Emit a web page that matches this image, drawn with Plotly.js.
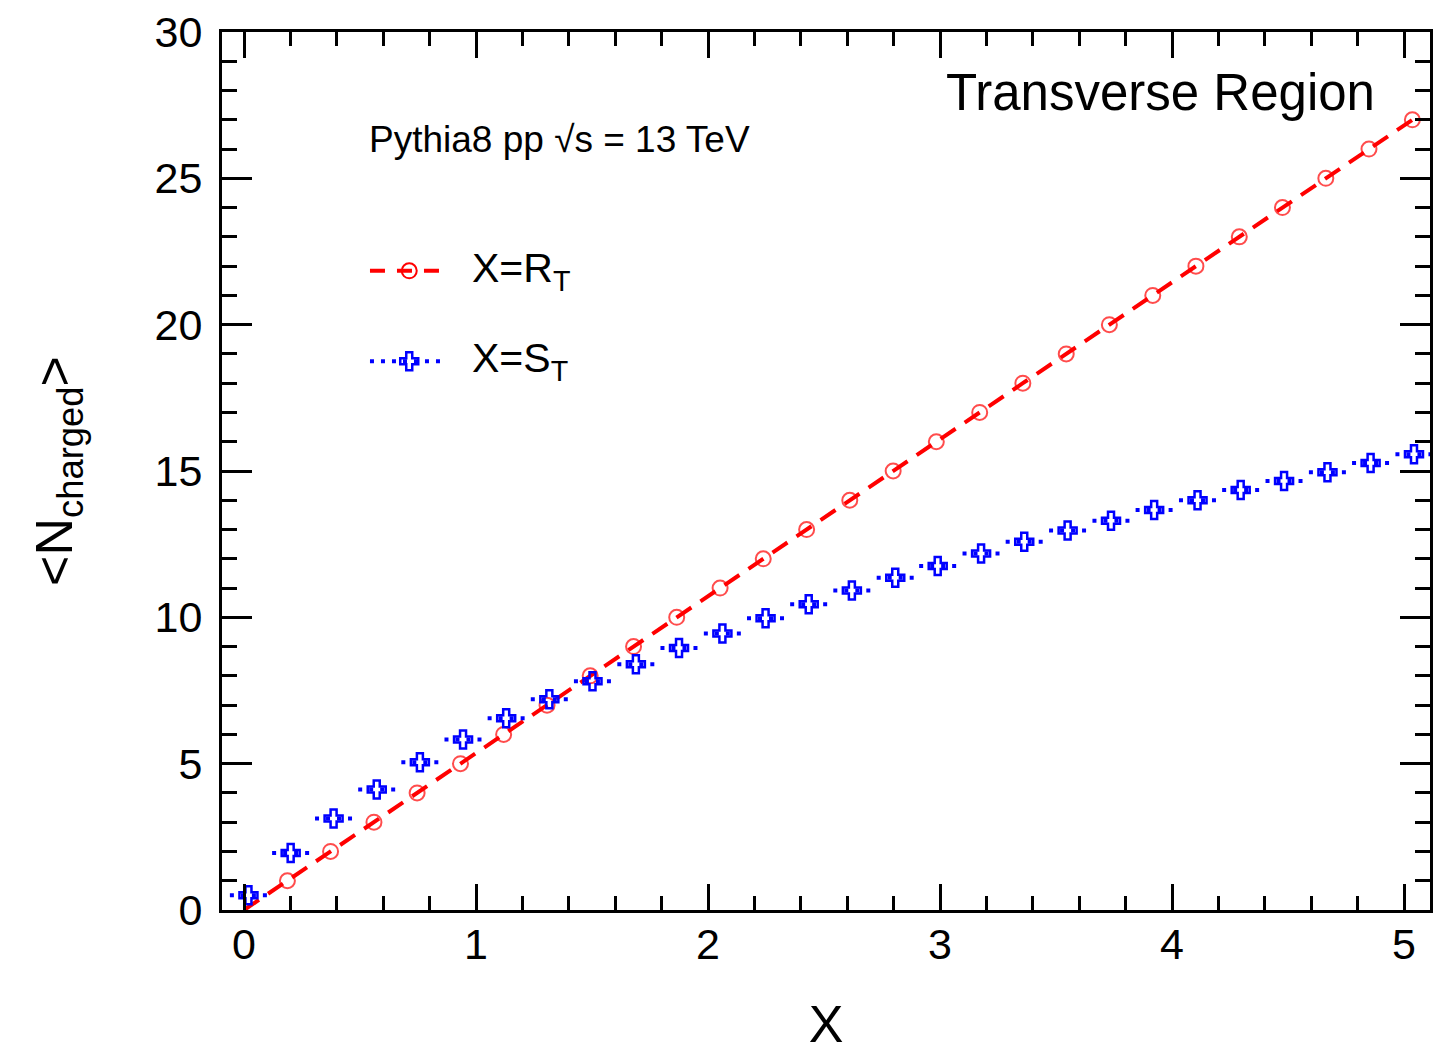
<!DOCTYPE html>
<html>
<head>
<meta charset="utf-8">
<script src="https://cdn.plot.ly/plotly-3.0.1.min.js"></script>
<style>
  html, body { margin: 0; padding: 0; background: #fff; }
  #chart { width: 1434px; height: 1055px; }
</style>
</head>
<body>
<div id="chart"></div>
<script>
// Mean charged multiplicity in the transverse region vs. the event-activity estimator X
const xRT = [0.000, 0.187, 0.373, 0.560, 0.746, 0.933, 1.119, 1.306, 1.492, 1.679,
             1.865, 2.052, 2.238, 2.425, 2.611, 2.798, 2.984, 3.171, 3.357, 3.544,
             3.730, 3.917, 4.103, 4.290, 4.476, 4.663, 4.849, 5.036];
const nRT = [0, 1, 2, 3, 4, 5, 6, 7, 8, 9, 10, 11, 12, 13, 14, 15, 16, 17, 18, 19,
             20, 21, 22, 23, 24, 25, 26, 27];

const xST = [0.019, 0.201, 0.386, 0.572, 0.758, 0.944, 1.130, 1.316, 1.502, 1.689,
             1.875, 2.062, 2.248, 2.434, 2.620, 2.807, 2.990, 3.177, 3.363, 3.550,
             3.737, 3.923, 4.110, 4.296, 4.483, 4.670, 4.856, 5.043];
const nST = [0.50, 1.95, 3.13, 4.12, 5.05, 5.83, 6.55, 7.20, 7.82, 8.40,
             8.95, 9.45, 9.97, 10.45, 10.92, 11.35, 11.75, 12.18, 12.58, 12.97,
             13.30, 13.67, 14.00, 14.35, 14.66, 14.96, 15.27, 15.57];

const labelRT = 'X=R<sub>T</sub>';
const labelST = 'X=S<sub>T</sub>';

const RED = '#ff0000';
const BLUE = '#0000ff';
const FONT = 'Liberation Sans, Arial, Helvetica, sans-serif';

// horizontal bin-width bars drawn around each S_T point
const halfBin = 0.08;
const segX = [], segY = [];
xST.forEach((x, i) => { segX.push(x - halfBin, x + halfBin, null); segY.push(nST[i], nST[i], null); });

const traces = [
  {
    x: xRT, y: nRT, type: 'scatter', mode: 'lines+markers', showlegend: false,
    line: { color: RED, width: 4, dash: '18px,11px' },
    marker: { symbol: 'circle-open', color: RED, size: xRT.map((v, i) => i === 0 ? 0 : 15),
              line: { width: 2, color: RED } },
    cliponaxis: true
  },
  {
    x: segX, y: segY, type: 'scatter', mode: 'lines', showlegend: false,
    line: { color: BLUE, width: 4, dash: '4px,7px' }, hoverinfo: 'skip'
  },
  {
    x: xST, y: nST, type: 'scatter', mode: 'markers', showlegend: false,
    marker: { symbol: 'cross-open', color: BLUE, size: 15, line: { width: 2.5, color: BLUE } }
  },
  // legend samples on an overlay frame spanning the plot area
  {
    x: [0.1225, 0.155, 0.1805], y: [0.728, 0.728, 0.728], xaxis: 'x2', yaxis: 'y2',
    type: 'scatter', mode: 'lines', showlegend: false, hoverinfo: 'skip',
    line: { color: RED, width: 4, dash: '15px,12px' }
  },
  {
    x: [0.155], y: [0.728], xaxis: 'x2', yaxis: 'y2', type: 'scatter', mode: 'markers',
    showlegend: false, hoverinfo: 'skip',
    marker: { symbol: 'circle-open', color: RED, size: 15, line: { width: 2, color: RED } }
  },
  {
    x: [0.1225, 0.155, 0.1855], y: [0.625, 0.625, 0.625], xaxis: 'x2', yaxis: 'y2',
    type: 'scatter', mode: 'lines', showlegend: false, hoverinfo: 'skip',
    line: { color: BLUE, width: 4, dash: '4px,7px' }
  },
  {
    x: [0.155], y: [0.625], xaxis: 'x2', yaxis: 'y2', type: 'scatter', mode: 'markers',
    showlegend: false, hoverinfo: 'skip',
    marker: { symbol: 'cross-open', color: BLUE, size: 15, line: { width: 2.5, color: BLUE } }
  }
];

const axisCommon = {
  showline: true, linecolor: '#000', linewidth: 3, mirror: 'allticks',
  ticks: 'inside', tickcolor: '#000', tickwidth: 3,
  showgrid: false, zeroline: false,
  tickfont: { family: FONT, size: 43, color: '#000' }
};

const layout = {
  width: 1434, height: 1055,
  margin: { l: 222, r: 4, t: 32, b: 145 },
  paper_bgcolor: '#fff', plot_bgcolor: '#fff',
  font: { family: FONT, color: '#000' },
  showlegend: false,
  xaxis: Object.assign({}, axisCommon, {
    range: [-0.095, 5.112], tickmode: 'linear', tick0: 0, dtick: 1, ticklen: 26,
    minor: { dtick: 0.2, tick0: 0, ticks: 'inside', ticklen: 14, tickwidth: 3, tickcolor: '#000' },
    ticklabelstandoff: -6,
    title: { text: 'X', font: { family: FONT, size: 52, color: '#000' }, standoff: 40 }
  }),
  yaxis: Object.assign({}, axisCommon, {
    range: [0, 30], tickmode: 'linear', tick0: 0, dtick: 5, ticklen: 30,
    minor: { dtick: 1, tick0: 0, ticks: 'inside', ticklen: 15, tickwidth: 3, tickcolor: '#000' },
    ticklabelstandoff: 8,
    title: { text: '&lt;N<sub>charged</sub>&gt;', font: { family: FONT, size: 52, color: '#000' }, standoff: 66 }
  }),
  xaxis2: { domain: [0, 1], range: [0, 1], overlaying: 'x', visible: false, fixedrange: true },
  yaxis2: { domain: [0, 1], range: [0, 1], overlaying: 'y', anchor: 'x2', visible: false, fixedrange: true },
  annotations: [
    { xref: 'paper', yref: 'paper', x: 0.956, y: 0.931, xanchor: 'right', yanchor: 'middle',
      text: 'Transverse Region', showarrow: false, font: { family: FONT, size: 51, color: '#000' } },
    { xref: 'paper', yref: 'paper', x: 0.12, y: 0.877, xanchor: 'left', yanchor: 'middle',
      text: 'Pythia8 pp √s = 13 TeV', showarrow: false, font: { family: FONT, size: 37, color: '#000' } },
    { xref: 'paper', yref: 'paper', x: 0.205, y: 0.728, xanchor: 'left', yanchor: 'middle',
      text: labelRT, showarrow: false, font: { family: FONT, size: 41, color: '#000' } },
    { xref: 'paper', yref: 'paper', x: 0.205, y: 0.625, xanchor: 'left', yanchor: 'middle',
      text: labelST, showarrow: false, font: { family: FONT, size: 41, color: '#000' } }
  ]
};

Plotly.newPlot('chart', traces, layout, { displayModeBar: false, staticPlot: true });
</script>
</body>
</html>
